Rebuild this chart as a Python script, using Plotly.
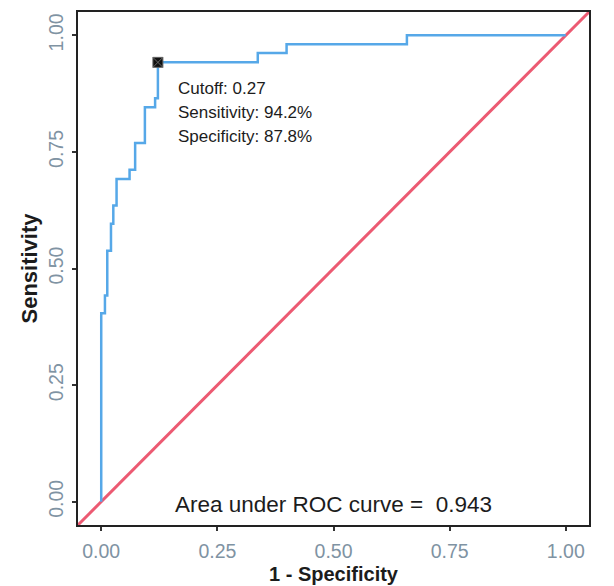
import plotly.graph_objects as go

# ROC curve data (step function)
fpr = [0.0, 0.0, 0.008, 0.013, 0.021, 0.026, 0.033, 0.061, 0.073, 0.094, 0.116, 0.122, 0.337, 0.399, 0.658, 1.0]
sens = [0.0, 0.404, 0.442, 0.538, 0.596, 0.635, 0.692, 0.712, 0.769, 0.846, 0.865, 0.942, 0.962, 0.981, 1.0, 1.0]

# optimal cutoff point
cut_fpr = [0.122]
cut_sens = [0.942]

# annotation texts
info_lines = ["Cutoff: 0.27", "Sensitivity: 94.2%", "Specificity: 87.8%"]
info_y = [0.886, 0.834, 0.783]
info_x = 0.161
auc_text = "Area under ROC curve =  0.943"

tick_vals = [0.0, 0.25, 0.5, 0.75, 1.0]
tick_text = ["0.00", "0.25", "0.50", "0.75", "1.00"]

FONT = "Liberation Sans, Arial, Helvetica, sans-serif"
BLUE = "#56A8E8"
RED = "#EC5A72"
TICKCOL = "#7F93A3"
TEXTCOL = "#1c1c1c"

fig = go.Figure()
fig.add_shape(type="line", xref="x domain", yref="y domain", x0=0, y0=0, x1=1, y1=1,
              line=dict(color=RED, width=3), layer="below")
fig.add_trace(go.Scatter(x=fpr, y=sens, mode="lines", line=dict(color=BLUE, width=2.5, shape="hv"),
                         showlegend=False, hoverinfo="skip"))
fig.add_trace(go.Scatter(x=cut_fpr, y=cut_sens, mode="markers",
                         marker=dict(symbol="square-x", size=10, color="#111111",
                                     line=dict(color="#666666", width=1)),
                         showlegend=False, hoverinfo="skip"))

for txt, yy in zip(info_lines, info_y):
    fig.add_annotation(x=info_x, y=yy, text=txt, showarrow=False, xanchor="left", yanchor="middle",
                       font=dict(family=FONT, size=17, color=TEXTCOL))
fig.add_annotation(x=0.499, y=-0.007, text=auc_text, showarrow=False, xanchor="center", yanchor="middle",
                   font=dict(family=FONT, size=22.5, color=TEXTCOL))

axis_common = dict(range=[-0.05, 1.05], tickvals=tick_vals, ticktext=tick_text,
                   showgrid=False, zeroline=False, showline=True, mirror=True,
                   linecolor="#222222", linewidth=2, ticks="outside", ticklen=4,
                   tickcolor="#333333", tickwidth=1.5,
                   tickfont=dict(family=FONT, size=19.5, color=TICKCOL))

fig.update_xaxes(**axis_common, ticklabelstandoff=4,
                 title=dict(text="<b>1 - Specificity</b>", font=dict(family=FONT, size=20, color=TEXTCOL), standoff=6))
fig.update_yaxes(**axis_common, tickangle=-90, ticklabelstandoff=1,
                 title=dict(text="<b>Sensitivity</b>", font=dict(family=FONT, size=22, color=TEXTCOL), standoff=2))

fig.update_layout(width=606, height=578, margin=dict(l=70, r=25, t=4, b=61, autoexpand=False),
                  paper_bgcolor="white", plot_bgcolor="white")

fig.write_html("out.html")
